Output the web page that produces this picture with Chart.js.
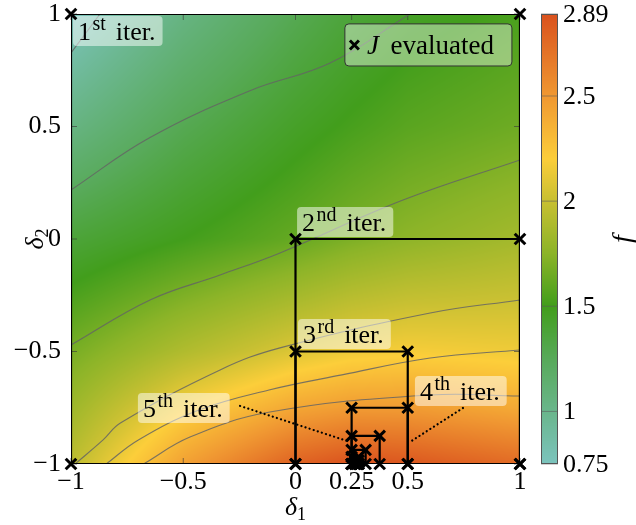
<!DOCTYPE html>
<html>
<head>
<meta charset="utf-8">
<script src="https://cdn.jsdelivr.net/npm/chart.js@4.4.1/dist/chart.umd.min.js"></script>
<style>
  html, body { margin: 0; padding: 0; background: #fff; }
</style>
</head>
<body>
<canvas id="chart" width="636" height="525"></canvas>
<script>
// axis ticks
const xTicks = [-1, -0.5, 0, 0.25, 0.5, 1];
const yTicks = [-1, -0.5, 0, 0.5, 1];
const barTicks = [0.75, 1, 1.5, 2, 2.5, 2.89];
const barLabels = ['0.75', '1', '1.5', '2', '2.5', '2.89'];
const fMin = 0.75, fMax = 2.89;

// f on a coarse grid (rows = gridY, cols = gridX)
const gridX = [-1, -0.5, 0, 0.25, 0.5, 1];
const gridY = [-1, -0.75, -0.5, 0, 0.5, 1];
const fGrid = [
  [1.95, 2.45, 2.80, 2.89, 2.86, 2.75],
  [1.82, 2.18, 2.42, 2.48, 2.48, 2.40],
  [1.68, 1.90, 2.08, 2.15, 2.18, 2.15],
  [1.38, 1.50, 1.62, 1.70, 1.76, 1.85],
  [1.05, 1.28, 1.45, 1.52, 1.58, 1.65],
  [0.76, 1.05, 1.28, 1.38, 1.45, 1.53]
];

// contour lines, [delta1, delta2] pairs
const contourA = [[-1, 0.827], [-0.871, 1]];
const contourB = [[-1, 0.218], [-0.65, 0.45], [-0.2, 0.66], [0.154, 0.782], [0.51, 1]];
const contourC = [[-1, -0.471], [-0.648, -0.271], [-0.336, -0.16], [-0.069, -0.062], [0.479, 0.173], [1, 0.351]];
const contourD = [[-0.982, -1], [-0.857, -0.893], [-0.78, -0.818], [-0.336, -0.582], [-0.069, -0.484], [0.6, -0.329], [1, -0.271]];
const contourE = [[-0.843, -1], [-0.7, -0.893], [-0.43, -0.76], [-0.118, -0.671], [0.207, -0.604], [0.6, -0.529], [1, -0.493]];
const contourF = [[-0.677, -1], [-0.47, -0.88], [-0.114, -0.769], [0.6, -0.693], [1, -0.698]];
const contours = [contourA, contourB, contourC, contourD, contourE, contourF];

// subdivision square of each iteration
const sqLeft   = [-1, 0, 0, 0.25, 0.25, 0.25, 0.25, 0.265625, 0.265625];
const sqRight  = [1, 1, 0.5, 0.5, 0.375, 0.3125, 0.28125, 0.28125, 0.2734375];
const sqBottom = [-1, -1, -1, -1, -1, -1, -1, -1, -1];
const sqTop    = [1, 0, -0.5, -0.75, -0.875, -0.9375, -0.96875, -0.984375, -0.9921875];

// iteration labels
const iterNum = ['1', '2', '3', '4', '5'];
const iterSup = ['st', 'nd', 'rd', 'th', 'th'];

// where the label boxes sit (top-left corner, data coords) and leader lines
const labelPos = [[-0.991, 0.991], [0.007, 0.142], [0.011, -0.356], [0.532, -0.609], [-0.702, -0.684]];
const leader4 = [[0.746, -0.751], [0.51, -0.902]];
const leader5 = [[-0.247, -0.742], [0.243, -0.902]];

const colorStops = [
  [0.75, [124, 196, 190]],
  [1.0, [106, 182, 140]],
  [1.25, [88, 170, 90]],
  [1.5, [66, 158, 28]],
  [1.75, [140, 180, 40]],
  [2.0, [200, 192, 50]],
  [2.2, [252, 206, 58]],
  [2.5, [240, 152, 50]],
  [2.89, [218, 82, 30]]
];

const SERIF = '"Liberation Serif", "DejaVu Serif", serif';

function colorAt(v) {
  if (v <= colorStops[0][0]) return colorStops[0][1];
  for (let i = 1; i < colorStops.length; i++) {
    if (v <= colorStops[i][0]) {
      const [v0, c0] = colorStops[i - 1], [v1, c1] = colorStops[i];
      const t = (v - v0) / (v1 - v0);
      return [0, 1, 2].map(k => c0[k] + (c1[k] - c0[k]) * t);
    }
  }
  return colorStops[colorStops.length - 1][1];
}

function seg(arr, v) {
  let i = 0;
  while (i < arr.length - 2 && v > arr[i + 1]) i++;
  return [i, Math.min(1, Math.max(0, (v - arr[i]) / (arr[i + 1] - arr[i])))];
}

function fieldAt(x, y) {
  const [i, tx] = seg(gridX, x);
  const [j, ty] = seg(gridY, y);
  const a = fGrid[j][i], b = fGrid[j][i + 1], c = fGrid[j + 1][i], d = fGrid[j + 1][i + 1];
  return (a * (1 - tx) + b * tx) * (1 - ty) + (c * (1 - tx) + d * tx) * ty;
}

const pts = arr => arr.map(p => ({ x: p[0], y: p[1] }));

const datasets = [];
contours.forEach(c => datasets.push({
  data: pts(c), showLine: true, tension: 0.4, pointRadius: 0,
  borderColor: 'rgba(100,100,100,0.85)', borderWidth: 1.1, order: 10
}));
[leader4, leader5].forEach(l => datasets.push({
  data: pts(l), showLine: true, pointRadius: 0, borderColor: '#000',
  borderWidth: 2.2, borderDash: [0.1, 4.2], borderCapStyle: 'round', order: 6
}));
sqLeft.forEach((l, i) => {
  const r = sqRight[i], b = sqBottom[i], t = sqTop[i];
  datasets.push({
    data: pts([[l, b], [r, b], [r, t], [l, t], [l, b]]), showLine: true, pointRadius: 0,
    borderColor: '#000', borderWidth: 2.2, order: 5
  });
});
const evalPts = [];
sqLeft.forEach((l, i) => {
  evalPts.push([l, sqBottom[i]], [sqRight[i], sqBottom[i]], [l, sqTop[i]], [sqRight[i], sqTop[i]]);
});
datasets.push({
  data: pts(evalPts), pointStyle: 'crossRot', pointRadius: 7.5, pointBorderWidth: 3,
  borderColor: '#000', backgroundColor: '#000', clip: false, order: 1
});

// superscripted label, e.g. 1^st iter.; returns its width
function drawSupText(ctx, x, y, base, sup, rest, size, draw) {
  ctx.fillStyle = '#000';
  ctx.textBaseline = 'alphabetic';
  ctx.textAlign = 'left';
  ctx.font = size + 'px ' + SERIF;
  if (draw) ctx.fillText(base, x, y);
  let cx = x + ctx.measureText(base).width + 1.5;
  ctx.font = Math.round(size * 0.76) + 'px ' + SERIF;
  if (draw) ctx.fillText(sup, cx, y - size * 0.4);
  cx += ctx.measureText(sup).width + 10;
  ctx.font = size + 'px ' + SERIF;
  if (draw) ctx.fillText(rest, cx, y);
  return cx + ctx.measureText(rest).width - x;
}

function roundRect(ctx, x, y, w, h, r) {
  ctx.beginPath();
  ctx.moveTo(x + r, y);
  ctx.arcTo(x + w, y, x + w, y + h, r);
  ctx.arcTo(x + w, y + h, x, y + h, r);
  ctx.arcTo(x, y + h, x, y, r);
  ctx.arcTo(x, y, x + w, y, r);
  ctx.closePath();
}

const overlayPlugin = {
  id: 'overlay',
  beforeDatasetsDraw(chart) {
    const { ctx, chartArea: a, scales: { x, y } } = chart;
    const w = Math.round(a.right - a.left), h = Math.round(a.bottom - a.top);
    const img = ctx.createImageData(w, h);
    for (let j = 0; j < h; j++) {
      const vy = y.getValueForPixel(a.top + j + 0.5);
      for (let i = 0; i < w; i++) {
        const c = colorAt(fieldAt(x.getValueForPixel(a.left + i + 0.5), vy));
        const k = (j * w + i) * 4;
        img.data[k] = c[0]; img.data[k + 1] = c[1]; img.data[k + 2] = c[2]; img.data[k + 3] = 255;
      }
    }
    ctx.putImageData(img, Math.round(a.left), Math.round(a.top));
    // inner tick marks
    ctx.save();
    ctx.strokeStyle = 'rgba(60,60,60,0.8)';
    ctx.lineWidth = 0.8;
    ctx.beginPath();
    xTicks.forEach(v => {
      const px = x.getPixelForValue(v);
      ctx.moveTo(px, a.top); ctx.lineTo(px, a.top + 6);
      ctx.moveTo(px, a.bottom); ctx.lineTo(px, a.bottom - 6);
    });
    yTicks.forEach(v => {
      const py = y.getPixelForValue(v);
      ctx.moveTo(a.left, py); ctx.lineTo(a.left + 6, py);
      ctx.moveTo(a.right, py); ctx.lineTo(a.right - 6, py);
    });
    ctx.stroke();
    ctx.restore();
  },
  afterDatasetDraw(chart, args) {
    if (args.index !== 0) return;
    const { ctx, scales: { x, y } } = chart;
    ctx.save();
    labelPos.forEach((p, i) => {
      const bx = x.getPixelForValue(p[0]), by = y.getPixelForValue(p[1]);
      const tw = drawSupText(ctx, 0, 0, iterNum[i], iterSup[i], 'iter.', 26, false);
      ctx.fillStyle = 'rgba(255,255,255,0.5)';
      roundRect(ctx, bx, by, tw + 12, 30, 4);
      ctx.fill();
      drawSupText(ctx, bx + 5, by + 24, iterNum[i], iterSup[i], 'iter.', 26, true);
    });
    // legend
    const lx = x.getPixelForValue(0.22), ly = y.getPixelForValue(0.956);
    const lx2 = x.getPixelForValue(0.964), ly2 = y.getPixelForValue(0.769);
    ctx.fillStyle = 'rgba(255,255,255,0.4)';
    ctx.strokeStyle = '#333';
    ctx.lineWidth = 1;
    roundRect(ctx, lx, ly, lx2 - lx, ly2 - ly, 4);
    ctx.fill(); ctx.stroke();
    const my = (ly + ly2) / 2;
    ctx.strokeStyle = '#000';
    ctx.lineWidth = 3;
    ctx.beginPath();
    ctx.moveTo(lx + 5, my - 4.5); ctx.lineTo(lx + 14, my + 4.5);
    ctx.moveTo(lx + 5, my + 4.5); ctx.lineTo(lx + 14, my - 4.5);
    ctx.stroke();
    ctx.fillStyle = '#000';
    ctx.textBaseline = 'alphabetic';
    ctx.font = 'italic 27px ' + SERIF;
    ctx.fillText('J', lx + 22, my + 9);
    const jw = ctx.measureText('J').width;
    ctx.font = '27px ' + SERIF;
    ctx.fillText(' evaluated', lx + 27 + jw, my + 9);
    ctx.restore();
  },
  afterDraw(chart) {
    const { ctx, chartArea: a } = chart;
    ctx.save();
    // colour bar
    const bx = 541, bw = 17, top = a.top, bot = a.bottom;
    for (let py = Math.floor(top); py < bot; py++) {
      const v = fMax - (py + 0.5 - top) / (bot - top) * (fMax - fMin);
      const c = colorAt(v);
      ctx.fillStyle = `rgb(${c[0] | 0},${c[1] | 0},${c[2] | 0})`;
      ctx.fillRect(bx, py, bw, 1);
    }
    ctx.strokeStyle = 'rgba(90,90,90,0.7)';
    ctx.lineWidth = 0.8;
    barTicks.forEach(v => {
      const py = bot - (v - fMin) / (fMax - fMin) * (bot - top);
      ctx.beginPath(); ctx.moveTo(bx, py); ctx.lineTo(bx + bw, py); ctx.stroke();
    });
    ctx.strokeStyle = '#555';
    ctx.lineWidth = 1;
    ctx.strokeRect(bx + 0.5, top + 0.5, bw - 1, bot - top - 1);
    ctx.fillStyle = '#000';
    ctx.font = '26px ' + SERIF;
    ctx.textBaseline = 'middle';
    ctx.textAlign = 'left';
    barTicks.forEach((v, i) => {
      const py = bot - (v - fMin) / (fMax - fMin) * (bot - top);
      ctx.fillText(barLabels[i], 563, py + 1);
    });
    // colour bar title
    ctx.save();
    ctx.translate(624, (top + bot) / 2);
    ctx.rotate(-Math.PI / 2);
    ctx.textAlign = 'center';
    ctx.font = 'italic 28px ' + SERIF;
    ctx.fillText('f', 0, 0);
    ctx.restore();
    // axis titles
    ctx.textBaseline = 'alphabetic';
    ctx.textAlign = 'left';
    const drawDelta = (cx, cy, sub) => {
      ctx.font = 'italic 26px ' + SERIF;
      const w1 = ctx.measureText('δ').width;
      ctx.font = '18px ' + SERIF;
      const w2 = ctx.measureText(sub).width;
      const x0 = cx - (w1 + w2) / 2;
      ctx.font = 'italic 26px ' + SERIF;
      ctx.fillText('δ', x0, cy);
      ctx.font = '18px ' + SERIF;
      ctx.fillText(sub, x0 + w1, cy + 5);
    };
    drawDelta((a.left + a.right) / 2, 515, '1');
    ctx.save();
    ctx.translate(43, (top + bot) / 2);
    ctx.rotate(-Math.PI / 2);
    drawDelta(0, 0, '2');
    ctx.restore();
    ctx.restore();
  }
};

const minus = v => String(v).replace('-', '\u2212');
const noPad = s => { s.paddingTop = 0; s.paddingBottom = 0; s.paddingLeft = 0; s.paddingRight = 0; };

new Chart(document.getElementById('chart'), {
  type: 'scatter',
  data: { datasets },
  options: {
    responsive: false,
    animation: false,
    layout: { autoPadding: false, padding: { top: 14, right: 116, left: 0, bottom: 0 } },
    plugins: { legend: { display: false }, tooltip: { enabled: false } },
    scales: {
      x: {
        type: 'linear', min: -1, max: 1,
        afterBuildTicks: s => { s.ticks = xTicks.map(v => ({ value: v })); },
        afterFit: s => { s.height = 61; noPad(s); },
        grid: { display: false, drawTicks: false },
        border: { display: false },
        ticks: { autoSkip: false, maxRotation: 0, minRotation: 0, padding: 3, color: '#000',
                 font: { family: SERIF, size: 26 }, callback: minus }
      },
      y: {
        type: 'linear', min: -1, max: 1,
        afterBuildTicks: s => { s.ticks = yTicks.map(v => ({ value: v })); },
        afterFit: s => { s.width = 71; noPad(s); },
        grid: { display: false, drawTicks: false },
        border: { display: false },
        ticks: { padding: 10, color: '#000', font: { family: SERIF, size: 26 }, callback: minus }
      }
    }
  },
  plugins: [overlayPlugin]
});
</script>
</body>
</html>
